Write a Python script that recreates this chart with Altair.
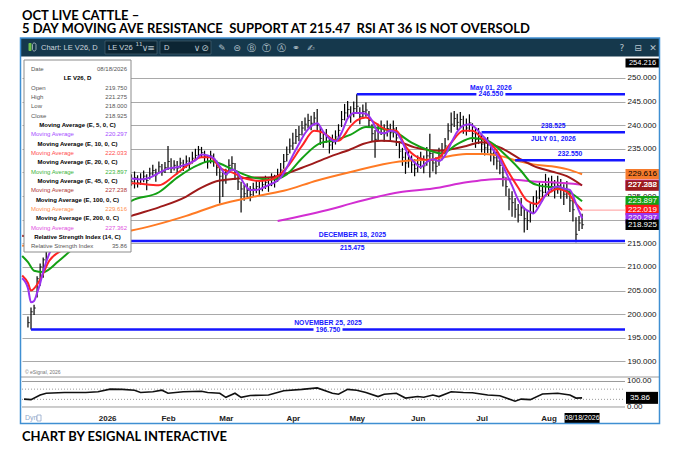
import altair as alt
import pandas as pd

# ---------------- data (LE V26, daily) ----------------
holidays = ["2025-11-27", "2025-12-25", "2026-01-01", "2026-01-19", "2026-02-16",
            "2026-04-03", "2026-05-25", "2026-06-19", "2026-07-03"]
days = [d for d in pd.bdate_range("2025-11-24", "2026-08-18")
        if d.strftime("%Y-%m-%d") not in holidays]

close = [198.2, 200.5, 201.3, 207.5, 210.0, 211.5, 214.0, 216.2, 217.8, 218.5,
         217.2, 218.9, 219.4, 217.5, 216.8, 217.6, 216.2, 216.9, 218.8, 219.6,
         220.9, 221.6, 222.8, 224.1, 225.0, 226.3, 226.0, 227.4, 228.2, 227.5,
         228.8, 229.3, 228.4, 229.0, 228.1, 228.9, 227.8, 228.6, 229.2, 228.3,
         229.7, 230.4, 229.5, 231.2, 230.2, 231.0, 232.3, 230.8, 231.5, 230.9,
         232.0, 231.3, 232.4, 231.8, 233.0, 233.6, 234.8, 234.2, 233.4, 232.2,
         233.5, 232.8, 231.0, 229.2, 228.2, 229.5, 231.5, 231.9, 230.3, 228.0,
         226.5, 225.5, 226.2, 225.3, 226.5, 227.0, 226.4, 227.4, 227.9, 227.3,
         228.5, 228.0, 229.4, 230.5, 232.3, 233.8, 235.6, 236.2, 237.6, 238.0,
         239.4, 240.2, 241.0, 240.4, 241.5, 240.0, 237.2, 236.5, 237.8, 235.8,
         236.4, 237.5, 238.9, 241.2, 242.6, 243.3, 242.2, 243.5, 244.0, 241.8,
         242.9, 243.2, 241.0, 238.2, 237.0, 238.5, 239.5, 238.2, 239.3, 238.4,
         239.2, 237.3, 234.5, 233.2, 232.0, 232.8, 231.6, 230.8, 231.7, 232.6,
         231.4, 233.5, 234.0, 232.0, 231.3, 233.4, 234.2, 235.6, 238.8, 240.2,
         241.4, 240.6, 241.2, 240.0, 239.4, 240.5, 238.2, 237.0, 237.8, 236.0,
         235.2, 235.8, 234.0, 233.1, 232.4, 231.5, 229.0, 227.0, 224.4, 223.6,
         222.2, 221.0, 222.5, 220.2, 219.8, 221.6, 223.2, 224.6, 226.1, 225.8,
         227.4, 226.8, 227.6, 226.4, 227.2, 226.5, 225.4, 226.3, 224.0, 222.1,
         216.9, 219.3, 218.925]
high = [199.5, 201.4, 202.0, 208.0, 210.7, 212.0, 214.6, 216.8, 218.6, 219.8,
        219.0, 219.6, 220.4, 219.8, 218.2, 218.4, 217.9, 217.7, 219.4, 220.3,
        221.5, 222.2, 223.5, 224.9, 225.7, 226.9, 227.2, 228.1, 229.0, 228.7,
        229.6, 230.0, 229.8, 230.3, 229.6, 230.2, 229.4, 229.8, 230.4, 229.6,
        231.0, 231.6, 230.8, 232.3, 231.8, 232.2, 235.6, 233.0, 232.6, 232.4,
        233.1, 232.7, 233.6, 233.2, 234.4, 235.0, 235.6, 235.4, 234.6, 233.7,
        234.6, 234.0, 232.5, 231.2, 230.0, 230.8, 232.8, 233.4, 232.0, 229.4,
        228.0, 227.4, 227.7, 227.1, 227.8, 228.4, 228.0, 228.9, 229.3, 228.8,
        229.8, 229.5, 230.8, 232.0, 233.9, 235.5, 237.2, 238.4, 239.2, 239.8,
        240.9, 241.6, 242.4, 242.0, 242.8, 243.4, 239.6, 238.2, 239.2, 237.6,
        238.0, 238.9, 240.2, 243.0, 244.5, 245.1, 244.0, 245.0, 246.55, 243.8,
        244.4, 244.8, 243.0, 240.2, 239.0, 240.3, 241.0, 240.2, 241.0, 240.3,
        241.0, 239.6, 236.6, 235.2, 234.3, 234.6, 233.6, 232.8, 233.6, 234.4,
        233.6, 235.4, 238.2, 234.2, 233.2, 235.2, 236.2, 237.3, 240.4, 242.7,
        243.0, 242.4, 242.8, 242.0, 241.4, 242.3, 240.4, 239.2, 239.4, 238.0,
        237.2, 237.5, 235.8, 234.9, 234.4, 233.4, 231.2, 229.0, 226.6, 226.0,
        224.6, 223.3, 224.6, 222.6, 222.0, 223.5, 225.0, 226.2, 227.9, 227.6,
        229.7, 228.9, 229.3, 228.4, 229.3, 228.6, 227.5, 228.2, 226.2, 224.3,
        220.5, 220.8, 221.275]
low = [197.2, 196.75, 199.8, 203.5, 206.0, 207.7, 211.0, 213.2, 215.9, 217.2,
       216.4, 216.9, 218.2, 217.0, 216.0, 216.2, 215.8, 215.475, 216.6, 218.2,
       219.3, 220.8, 221.7, 222.6, 223.8, 224.9, 225.1, 225.8, 227.0, 226.8,
       227.2, 228.1, 227.6, 227.9, 227.2, 226.6, 226.8, 227.4, 227.9, 226.2,
       228.5, 229.3, 228.0, 229.8, 229.3, 229.9, 230.5, 229.9, 230.4, 229.6,
       230.9, 230.3, 231.0, 230.6, 231.9, 232.4, 233.5, 233.1, 232.0, 230.8,
       231.9, 231.2, 229.3, 223.4, 224.8, 227.6, 229.8, 230.4, 228.4, 226.3,
       221.5, 224.0, 224.8, 223.9, 225.0, 225.6, 225.0, 226.0, 226.5, 225.9,
       227.1, 226.8, 228.0, 229.3, 230.8, 232.3, 234.0, 234.8, 236.0, 236.6,
       237.8, 238.8, 239.4, 238.9, 240.0, 238.6, 235.8, 235.2, 236.3, 234.0,
       234.8, 235.9, 237.3, 239.6, 241.0, 241.6, 240.5, 241.7, 242.4, 240.2,
       241.4, 241.8, 239.4, 236.6, 233.1, 236.8, 237.9, 236.5, 237.6, 236.8,
       237.4, 235.6, 233.0, 231.4, 229.7, 231.0, 229.9, 229.2, 230.0, 230.8,
       229.8, 231.4, 228.9, 230.2, 229.6, 231.4, 232.6, 234.0, 236.8, 238.4,
       239.6, 239.0, 239.6, 238.2, 237.8, 238.6, 236.4, 235.2, 236.0, 234.2,
       233.6, 234.1, 232.3, 231.5, 230.6, 229.6, 227.0, 225.0, 222.0, 220.6,
       220.4, 219.4, 220.8, 217.3, 217.8, 219.4, 221.3, 222.6, 224.3, 223.9,
       225.6, 225.0, 225.8, 224.5, 225.5, 224.4, 223.1, 224.4, 221.6, 219.6,
       215.2, 217.6, 218.0]

# moving averages, sampled along each line (bar index, value)
ema5_i = [-1.9, 0, 1, 2, 3, 4, 5, 7, 10, 13, 17, 20, 24, 28, 31, 34, 37, 40, 43, 46, 49, 52, 55,
          57, 59, 61, 63, 65, 67, 69, 71, 73, 75, 77, 79, 81, 83, 85, 87, 89, 91, 93, 95, 97,
          99, 101, 103, 105, 107, 109, 111, 113, 115, 117, 119, 121, 123, 125, 127, 129, 131,
          133, 135, 137, 139, 141, 143, 145, 147, 149, 151, 153, 155, 157, 159, 161, 163, 165,
          166, 168, 170, 172, 174, 176, 178, 180, 182]
ema5_v = [207.6, 205.5, 202.5, 202.8, 204.5, 206.5, 209.0, 212.8, 216.2, 217.8, 216.8, 218.6,
          222.2, 225.8, 227.8, 228.7, 228.5, 228.9, 229.9, 230.8, 231.1, 231.7, 232.6, 233.8,
          233.6, 233.0, 231.3, 229.6, 230.6, 229.8, 227.6, 226.3, 226.3, 226.7, 227.3, 227.9,
          228.9, 231.0, 233.6, 236.0, 238.3, 239.8, 240.4, 238.6, 237.2, 236.6, 238.4, 241.4,
          242.6, 242.6, 242.4, 241.0, 238.6, 238.3, 238.8, 238.4, 236.4, 233.6, 232.1, 231.1,
          232.2, 232.8, 232.4, 233.6, 236.2, 238.6, 239.9, 240.2, 239.4, 238.0, 236.6, 234.6,
          232.8, 230.0, 227.2, 224.2, 222.4, 221.6, 221.3, 223.0, 225.2, 226.6, 227.0, 226.6,
          226.3, 223.4, 220.297]
ema10_i = [-1.9, 0, 1, 4, 7, 11, 16, 22, 28, 34, 43, 48, 53, 57, 60, 63, 67, 72, 76, 80, 85, 90,
           94, 97, 100, 102, 106, 108, 111, 114, 118, 121, 124, 128, 132, 135, 139, 143, 146,
           149, 154, 157, 161, 164, 167, 169, 174, 177, 180, 182]
ema10_v = [208.2, 206.6, 205.0, 207.3, 211.3, 213.5, 215.5, 219.0, 224.0, 227.7, 227.3, 229.3,
           231.8, 233.2, 233.2, 231.0, 230.0, 228.6, 228.2, 228.5, 231.0, 235.6, 238.8, 238.4,
           237.0, 236.7, 239.8, 241.0, 241.6, 240.5, 239.0, 238.8, 235.5, 233.2, 232.6, 233.2,
           236.3, 238.8, 238.8, 237.3, 234.6, 231.0, 226.8, 224.0, 223.3, 224.6, 226.5, 225.9,
           223.4, 222.033]
ema20_i = [-1.9, 0, 2, 5, 10, 14, 20, 27, 34, 43, 49, 56, 60, 63, 67, 74, 80, 85, 90, 96, 100,
           106, 111, 116, 121, 126, 132, 136, 141, 146, 151, 157, 162, 165, 168, 174, 178, 182]
ema20_v = [212.3, 211.0, 209.2, 208.9, 211.2, 213.4, 216.4, 220.6, 224.0, 225.8, 228.9, 231.6,
           232.4, 231.9, 230.7, 228.9, 228.5, 229.6, 233.0, 236.2, 236.7, 238.0, 239.6, 239.3,
           238.4, 236.3, 234.6, 234.0, 236.0, 237.3, 236.7, 233.6, 230.3, 228.0, 227.2, 226.7,
           225.8, 223.897]
ema45_i = [-1.9, 0, 5, 12, 20, 27, 34, 43, 52, 57, 63, 74, 80, 90, 99, 106, 110, 116, 122, 127,
           135, 144, 149, 155, 161, 166, 172, 177, 182]
ema45_v = [216.6, 216.4, 216.0, 216.4, 217.6, 219.2, 220.8, 222.6, 224.9, 226.8, 228.3, 228.9,
           229.0, 231.0, 233.3, 234.9, 236.0, 236.7, 236.4, 235.3, 234.6, 235.6, 236.4, 235.3,
           233.1, 231.4, 230.2, 229.2, 227.238]
ema100_i = [-1.9, 0, 10, 20, 34, 52, 63, 73, 84, 95, 106, 122, 133, 144, 150, 155, 161, 166,
            172, 177, 182]
ema100_v = [214.5, 214.6, 215.5, 216.5, 217.7, 220.8, 223.2, 224.7, 226.1, 228.3, 230.1, 232.3,
            232.8, 233.9, 233.9, 233.5, 232.4, 231.7, 231.3, 230.7, 229.616]
ema200_i = [82, 100, 106, 122, 133, 144, 150, 155, 161, 166, 172, 177, 182]
ema200_v = [219.7, 222.3, 223.4, 225.8, 226.6, 227.9, 228.4, 228.6, 228.4, 228.1, 227.9, 227.7,
            227.362]

# RSI(14) sampled along the lower pane
rsi_i = [-1.3, 1, 4, 6, 12, 19, 23, 27, 31, 35, 37, 41, 44, 46, 51, 57, 59, 63, 65, 68, 70, 73,
         79, 84, 90, 95, 100, 102, 105, 108, 111, 115, 117, 121, 124, 128, 130, 133, 135, 139,
         143, 146, 151, 155, 160, 162, 165, 169, 174, 178, 180, 182]
rsi_v = [31, 29, 47, 54, 57, 57, 60, 70, 69, 66, 57, 60, 66, 54, 60, 62, 57, 54, 38, 54, 38, 45,
         47, 64, 69, 75, 54, 50, 69, 66, 57, 41, 50, 54, 35, 41, 38, 47, 41, 60, 57, 56, 47, 44,
         23, 31, 29, 51, 54, 47, 35, 35.86]

# drawn support / resistance levels
level_price = [246.55, 238.525, 232.55, 215.475, 196.75]
level_start = [108, 149, 160, 17, 1]
level_above = ["May 01, 2026", "238.525", "232.550", "DECEMBER 18, 2025", "NOVEMBER 25, 2025"]
level_below = ["", "JULY 01, 2026", "", "215.475", ""]
level_on = ["246.550", "", "", "", "196.750"]

# last-value tags on the price scale
tag_price = [229.616, 227.362, 227.238, 223.897, 222.019, 220.297, 218.925]
tag_fill = ["#f57a2b", "#d12fd1", "#9c1b1b", "#13a013", "#ff1717", "#9a32f0", "#000000"]
tag_ink = ["#000000", "#ffffff", "#ffffff", "#ffffff", "#ffffff", "#ffffff", "#ffffff"]

month_names = ["2026", "Feb", "Mar", "Apr", "May", "Jun", "Jul", "Aug"]

# data window
dw_left = ["Date", "", "Open", "High", "Low", "Close", "", "Moving Average", "", "Moving Average",
           "", "Moving Average", "", "Moving Average", "", "Moving Average", "", "Moving Average",
           "", "Relative Strength Index"]
dw_right = ["08/18/2026", "", "219.750", "221.275", "218.000", "218.925", "", "220.297", "",
            "222.033", "", "223.897", "", "227.238", "", "229.616", "", "227.362", "", "35.86"]
dw_head = ["", "LE V26, D", "", "", "", "", "Moving Average (E, 5, 0, C)", "",
           "Moving Average (E, 10, 0, C)", "", "Moving Average (E, 20, 0, C)", "",
           "Moving Average (E, 45, 0, C)", "", "Moving Average (E, 100, 0, C)", "",
           "Moving Average (E, 200, 0, C)", "", "Relative Strength Index (14, C)", ""]
dw_color = ["#555555", "#000000", "#555555", "#555555", "#555555", "#555555", "#000000",
            "#a64dff", "#000000", "#ff4d4d", "#000000", "#3cb43c", "#000000", "#b03636",
            "#000000", "#ff8f4d", "#000000", "#e04ee0", "#000000", "#555555"]

# ---------------- layout ----------------
W, H = 603, 319
XMIN, XMAX = -1.96, 196.1
PMIN, PMAX = 186.70, 254.216
RMIN, RMAX = 117.647, 1368.63
FONT = "Liberation Sans"
TFONT = "Lato"
BLUE = "#1616ff"

month_idx = [next(k for k, d in enumerate(days) if d.year == 2026 and d.month == m)
             for m in range(1, 9)]
label_expr = ("[" + ",".join(f"'{n}'" for n in month_names) + "][indexof(["
              + ",".join(str(v) for v in month_idx) + "], datum.value)]")

xs = alt.Scale(domain=[XMIN, XMAX], nice=False, zero=False)
ps = alt.Scale(domain=[PMIN, PMAX], nice=False, zero=False)
rs = alt.Scale(domain=[RMIN, RMAX], nice=False, zero=False)

x_axis = alt.Axis(orient="bottom", values=month_idx, labelExpr=label_expr, offset=35,
                  tickSize=0, domain=False, grid=False, labelFont=FONT, labelFontSize=8,
                  labelFontWeight="bold", labelColor="#222222", labelPadding=2,
                  labelOverlap=False, labelFlush=False, title=None)
y_axis = alt.Axis(orient="right", values=list(range(190, 251, 5)), format=".3f", grid=True,
                  gridColor="#a9a9a9", gridWidth=1, tickSize=0, domain=False, labelFont=FONT,
                  labelFontSize=8, labelColor="#111111", labelPadding=2, labelOverlap=False,
                  labelFlush=False, title=None)


def X(f="i"):
    return alt.X(f"{f}:Q", scale=xs, axis=x_axis)


def P(f):
    return alt.Y(f"{f}:Q", scale=ps, axis=y_axis)


def R(f):
    return alt.Y(f"{f}:Q", scale=rs, axis=None)


one = pd.DataFrame({"a": [0]})


def box(x1, x2, y1, y2, **kw):
    return alt.Chart(one).mark_rect(**kw).encode(
        x=alt.value(x1), x2=alt.value(x2), y=alt.value(y1), y2=alt.value(y2))


def texts(df, **kw):
    return alt.Chart(df).mark_text(**kw).encode(
        x=alt.X("x:Q", scale=None), y=alt.Y("y:Q", scale=None), text="t:N")


# ---------------- price pane ----------------
bars = pd.DataFrame({"i": range(len(close)), "high": high, "low": low, "close": close})
hl = alt.Chart(bars).mark_rule(color="#000000", strokeWidth=1.2).encode(
    x=X(), y=P("low"), y2="high")
ct = alt.Chart(bars).mark_tick(orient="horizontal", size=2, thickness=1, xOffset=1,
                               color="#000000").encode(x=X(), y=P("close"))

ma_layers = []
for idx, val, col in [(ema200_i, ema200_v, "#d22ed2"), (ema100_i, ema100_v, "#ff7a24"),
                      (ema45_i, ema45_v, "#9e1a1a"), (ema20_i, ema20_v, "#14a014"),
                      (ema10_i, ema10_v, "#ff2424"), (ema5_i, ema5_v, "#9a32f0")]:
    ma_layers.append(alt.Chart(pd.DataFrame({"i": idx, "v": val})).mark_line(
        color=col, strokeWidth=2, interpolate="monotone").encode(x=X(), y=P("v")))

ext = alt.Chart(pd.DataFrame({"i": [len(close) - 1], "v": [222.019]})).mark_rule(
    color="#ff9a9a", strokeWidth=1).encode(x=X(), x2=alt.value(W), y=P("v"))

lv = pd.DataFrame({"p": level_price, "s": level_start, "above": level_above,
                   "below": level_below, "on": level_on})
lv["cx"] = (lv["s"] + XMAX) / 2
lv_rule = alt.Chart(lv).mark_rule(color=BLUE, strokeWidth=2.5).encode(
    x=X("s"), x2=alt.value(W), y=P("p"))
lv_kw = dict(font=FONT, fontSize=6.8, fontWeight="bold", color=BLUE, align="center",
             baseline="middle")
lv_above = alt.Chart(lv).mark_text(dy=-6.5, **lv_kw).encode(x=X("cx"), y=P("p"), text="above:N")
lv_below = alt.Chart(lv).mark_text(dy=6.5, **lv_kw).encode(x=X("cx"), y=P("p"), text="below:N")
lv_bg = alt.Chart(lv).transform_filter("datum.on != ''").mark_tick(
    orient="horizontal", size=29, thickness=7, color="white", opacity=1).encode(
    x=X("cx"), y=P("p"))
lv_on = alt.Chart(lv).mark_text(**lv_kw).encode(x=X("cx"), y=P("p"), text="on:N")

tags = pd.DataFrame({"v": tag_price, "fill": tag_fill, "ink": tag_ink})
tags["t"] = tags["v"].map(lambda v: f"{v:.3f}")
tag_box = alt.Chart(tags).mark_tick(orient="horizontal", size=34, thickness=10.5,
                                    opacity=1).encode(
    x=alt.value(620.5), y=P("v"), color=alt.Color("fill:N", scale=None))
tag_txt = alt.Chart(tags).mark_text(font=FONT, fontSize=8, align="center",
                                    baseline="middle").encode(
    x=alt.value(620.5), y=P("v"), text="t:N", color=alt.Color("ink:N", scale=None))

top = pd.DataFrame({"v": [PMAX], "t": [f"{PMAX:.3f}"]})
top_box = alt.Chart(top).mark_tick(orient="horizontal", size=34, thickness=9, yOffset=5,
                                   color="#000000", opacity=1).encode(x=alt.value(620.5), y=P("v"))
top_txt = alt.Chart(top).mark_text(font=FONT, fontSize=7.5, dy=5, color="white",
                                   baseline="middle").encode(x=alt.value(620.5), y=P("v"), text="t:N")

last = pd.DataFrame({"i": [len(close) - 1], "t": [days[-1].strftime("%m/%d/%Y")]})
date_box = alt.Chart(last).mark_tick(orient="horizontal", size=35, thickness=10,
                                     color="#000000", opacity=1).encode(x=X(), y=alt.value(360))
date_txt = alt.Chart(last).mark_text(font=FONT, fontSize=7, color="white",
                                     baseline="middle").encode(x=X(), y=alt.value(360), text="t:N")

price = alt.layer(hl, ct, *ma_layers, ext, lv_rule, lv_above, lv_below, lv_bg, lv_on,
                  tag_box, tag_txt, top_box, top_txt, date_box, date_txt)

# ---------------- RSI pane ----------------
rsi = pd.DataFrame({"i": rsi_i, "v": rsi_v})
rsi_solid = alt.Chart(pd.DataFrame({"v": [100, 0]})).mark_rule(
    color="#9a9a9a", strokeWidth=1).encode(x=alt.value(0), x2=alt.value(W), y=R("v"))
rsi_dot = alt.Chart(pd.DataFrame({"v": [70, 30]})).mark_rule(
    color="#9a9a9a", strokeWidth=1, strokeDash=[1, 2]).encode(
    x=alt.value(0), x2=alt.value(W), y=R("v"))
rsi_line = alt.Chart(rsi).mark_line(color="#111111", strokeWidth=1.6).encode(x=X(), y=R("v"))
rsi_lab = alt.Chart(pd.DataFrame({"v": [100, 0], "t": ["100.00", "0.00"]})).mark_text(
    font=FONT, fontSize=8, align="left", baseline="middle", color="#111111").encode(
    x=alt.value(605), y=R("v"), text="t:N")
rsi_last = pd.DataFrame({"v": [rsi_v[-1]], "t": [f"{rsi_v[-1]:.2f}"]})
rsi_box = alt.Chart(rsi_last).mark_tick(orient="horizontal", size=32, thickness=12,
                                        color="#000000", opacity=1).encode(x=alt.value(620), y=R("v"))
rsi_txt = alt.Chart(rsi_last).mark_text(font=FONT, fontSize=8, color="white",
                                        baseline="middle").encode(x=alt.value(618), y=R("v"), text="t:N")
rsi_pane = alt.layer(rsi_solid, rsi_dot, rsi_line, rsi_lab, rsi_box, rsi_txt)

# ---------------- window decorations ----------------
header = box(-2, 638, -20, -1.5, color="#15384c")
hdr_box1 = box(83, 135, -17, -4, color="#0c2533", stroke="#4f6a7a", strokeWidth=0.6)
hdr_box2 = box(138, 189, -17, -4, color="#0c2533", stroke="#4f6a7a", strokeWidth=0.6)
hdr_led = box(6.5, 9.5, -15, -7, color="#6cc04a", cornerRadius=1)
hdr_led2 = box(10.5, 14, -15, -7, color="#15384c", stroke="#b8c2ca", strokeWidth=0.8,
               cornerRadius=2)
hdr_text = texts(pd.DataFrame({"x": [19, 86, 142], "y": [-10.5, -10.5, -10.5],
                               "t": ["Chart: LE V26, D", "LE V26", "D"]}),
                 font=FONT, fontSize=7.5, color="#cdd6dd", align="left", baseline="middle")
hdr_icons = texts(pd.DataFrame({
    "x": [117, 123, 129, 175, 183, 200, 215, 229, 244, 259, 274, 289, 600, 616, 631],
    "y": [-12, -10.5, -10.5, -10.5, -10.5, -10.5, -10.5, -10.5, -10.5, -10.5, -10.5, -10.5,
          -10.5, -10.5, -10.5],
    "t": ["\u00b9\u00b9", "\u2228", "\u2261", "\u2228", "\u2298", "\u270e", "\u229c", "\u24b7",
          "\u24c9", "\u24b6", "\u26ad", "\u270d", "?", "\u229f", "\u2715"]}),
    font="DejaVu Sans", fontSize=9, color="#b9c4cc", align="center", baseline="middle")

dw = pd.DataFrame({"row": range(len(dw_left)), "l": dw_left, "r": dw_right, "h": dw_head,
                   "c": dw_color})
dw["y"] = 11 + dw["row"] * 9.33
dw_frame = box(2, 109, 2, 194, color="white", stroke="#8c8c8c", strokeWidth=1)
dw_kw = dict(font=FONT, fontSize=6, baseline="middle")
dw_l = alt.Chart(dw).mark_text(align="left", **dw_kw).encode(
    x=alt.value(9), y=alt.Y("y:Q", scale=None), text="l:N", color=alt.Color("c:N", scale=None))
dw_r = alt.Chart(dw).mark_text(align="right", **dw_kw).encode(
    x=alt.value(105), y=alt.Y("y:Q", scale=None), text="r:N", color=alt.Color("c:N", scale=None))
dw_h = alt.Chart(dw).mark_text(align="center", fontWeight="bold", color="#000000", **dw_kw).encode(
    x=alt.value(55.5), y=alt.Y("y:Q", scale=None), text="h:N")

divider = alt.Chart(one).mark_rule(color="#9a9a9a", strokeWidth=1).encode(
    x=alt.value(-1), x2=alt.value(637), y=alt.value(319))
small = texts(pd.DataFrame({"x": [3], "y": [314], "t": ["\u00a9 eSignal, 2026"]}),
              font=FONT, fontSize=5, color="#777777", align="left", baseline="middle")
dyn = texts(pd.DataFrame({"x": [3], "y": [360], "t": ["Dyn"]}),
            font=FONT, fontSize=7, color="#8fa6c9", align="left", baseline="middle")
lock = box(15, 19, 357, 363, color="white", stroke="#8fa6c9", strokeWidth=0.8)
border = box(-1.5, 637.5, -20, 365.5, fillOpacity=0, stroke="#3f8fd2", strokeWidth=1.5)

titles = texts(pd.DataFrame({
    "x": [0, 0, 0], "y": [-42.5, -29, 379],
    "t": ["OCT LIVE CATTLE \u2013",
          "5 DAY MOVING AVE RESISTANCE\u00a0 SUPPORT AT 215.47\u00a0 RSI AT 36 IS NOT OVERSOLD",
          "CHART BY ESIGNAL INTERACTIVE"]}),
    font=TFONT, fontSize=13, fontWeight="bold", color="#000000", align="left",
    baseline="middle")

chart = alt.layer(
    price, rsi_pane, divider, dw_frame, dw_l, dw_r, dw_h, small, dyn, lock,
    header, hdr_box1, hdr_box2, hdr_led, hdr_led2, hdr_text, hdr_icons, border, titles
).resolve_scale(y="independent").properties(
    width=W, height=H,
    padding={"left": 14, "top": 50, "right": 51, "bottom": 67},
    autosize=alt.AutoSizeParams(type="none"),
).configure_view(stroke=None)

chart.save("out.html", embed_options={"renderer": "svg", "actions": False})
